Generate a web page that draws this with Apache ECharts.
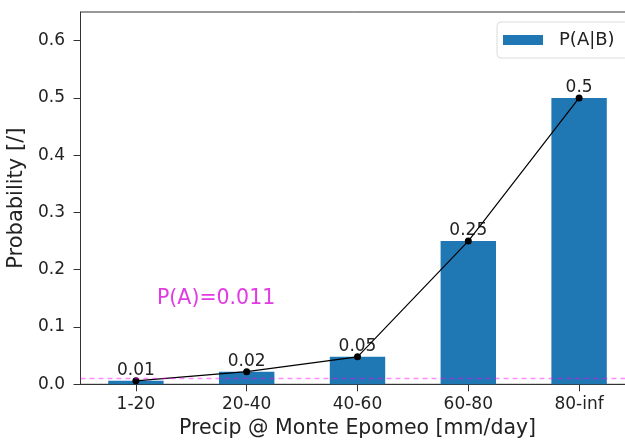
<!DOCTYPE html>
<html>
<head>
<meta charset="utf-8">
<script src="https://cdn.jsdelivr.net/npm/echarts@6/dist/echarts.min.js"></script>
<style>
html,body{margin:0;padding:0;background:#fff;}
#chart{width:625px;height:442px;}
</style>
</head>
<body>
<div id="chart"></div>
<script>
const categories = ['1-20', '20-40', '40-60', '60-80', '80-inf'];
const probValues = [0.006, 0.022, 0.048, 0.25, 0.5];
const pA = 0.011;
const yTicks = [0, 0.1, 0.2, 0.3, 0.4, 0.5, 0.6];
const seriesName = 'P(A|B)';
const annotation = 'P(A)=' + pA;

const FONT = 'DejaVu Sans';
const chart = echarts.init(document.getElementById('chart'), null, {renderer: 'canvas'});
const fmt = v => String(Number(v.toFixed(2)));

chart.setOption({
  animation: false,
  backgroundColor: '#fff',
  textStyle: {fontFamily: FONT},
  grid: {left: 80.5, top: 12, width: 554, height: 372.3, show: true, borderColor: '#333', borderWidth: 1,
         backgroundColor: 'transparent', outerBoundsMode: 'none', containLabel: false},
  legend: {
    data: [seriesName],
    left: 497, top: 22,
    padding: [9, 14, 9, 6],
    backgroundColor: 'rgba(255,255,255,0.85)',
    borderColor: '#dcdcdc', borderWidth: 1, borderRadius: 4,
    itemWidth: 40, itemHeight: 10,
    icon: 'rect',
    textStyle: {fontFamily: FONT, fontSize: 18, color: '#222', padding: [0, 0, 0, 11]}
  },
  xAxis: {
    type: 'category',
    data: categories,
    boundaryGap: true,
    name: 'Precip @ Monte Epomeo [mm/day]',
    nameLocation: 'middle',
    nameGap: 32,
    nameTextStyle: {fontFamily: FONT, fontSize: 20.5, color: '#222'},
    axisLine: {show: true, lineStyle: {color: '#333', width: 1}},
    axisTick: {show: true, alignWithLabel: true, length: 7, lineStyle: {color: '#333'}},
    axisLabel: {fontFamily: FONT, fontSize: 17, color: '#222', margin: 12},
    splitLine: {show: false}
  },
  yAxis: {
    type: 'value',
    min: 0, max: 0.65,
    name: 'Probability [/]',
    nameLocation: 'middle',
    nameRotate: 90,
    nameGap: 49,
    nameTextStyle: {fontFamily: FONT, fontSize: 21, color: '#222'},
    axisLine: {show: true, lineStyle: {color: '#333', width: 1}},
    axisTick: {show: true, length: 7, customValues: yTicks, lineStyle: {color: '#333'}},
    axisLabel: {fontFamily: FONT, fontSize: 17, color: '#222', margin: 15.5, customValues: yTicks, formatter: v => v.toFixed(1)},
    splitLine: {show: false}
  },
  series: [
    {
      name: seriesName,
      type: 'bar',
      data: probValues,
      barWidth: '50%',
      itemStyle: {color: '#1f77b4'},
      label: {show: true, position: 'top', distance: 2, fontFamily: FONT, fontSize: 17, color: '#222',
              formatter: p => fmt(p.value)},
      markLine: {
        silent: true,
        symbol: ['none', 'none'],
        label: {show: false},
        lineStyle: {type: [5, 4], color: '#ff00ff', opacity: 0.45, width: 1.3},
        data: [{yAxis: pA}]
      },
      z: 2
    },
    {
      name: 'trend',
      type: 'line',
      data: probValues,
      symbol: 'circle',
      symbolSize: 7,
      itemStyle: {color: '#000'},
      lineStyle: {color: '#000', width: 1.2},
      z: 3
    }
  ],
  graphic: [
    {type: 'text', left: 157, top: 288, z: 10,
     style: {text: annotation, font: '20.5px "DejaVu Sans"', fill: '#e23be2'}}
  ]
});
</script>
</body>
</html>
